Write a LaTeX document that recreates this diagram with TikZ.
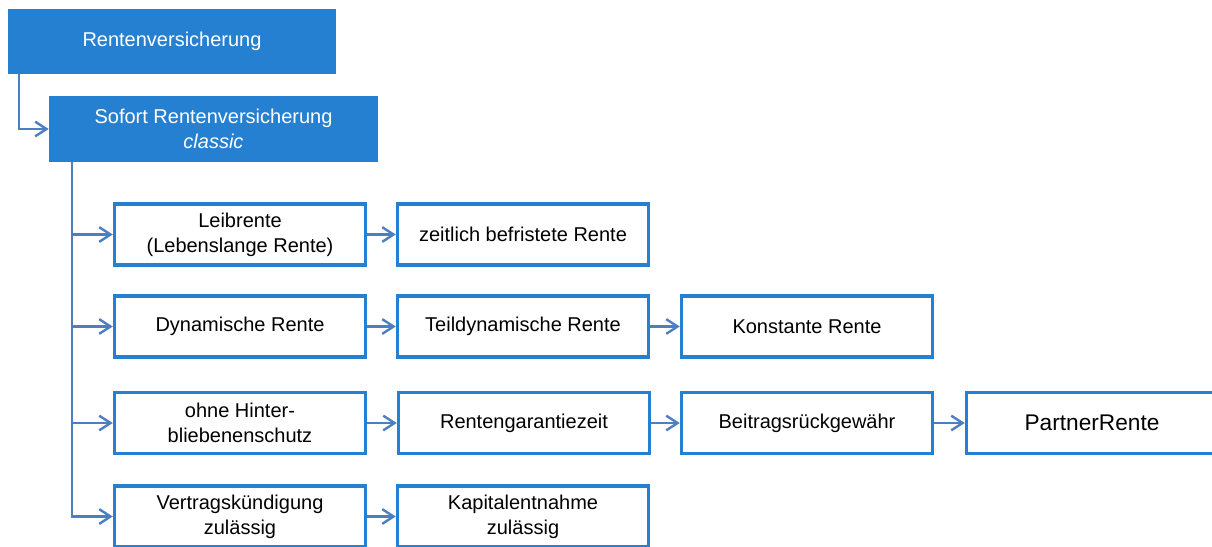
\documentclass[tikz,border=0pt]{standalone}
\usepackage{fontspec}
\setmainfont{Liberation Sans}
\usetikzlibrary{arrows.meta}
\usetikzlibrary{positioning}
\definecolor{boxblue}{RGB}{38,128,210}
\definecolor{linkblue}{RGB}{76,127,193}
\tikzset{>={Straight Barb[length=8.5pt,width=11pt]}}
\tikzset{
    headbox/.style={fill=boxblue, draw=none, text=white, align=center,
        font=\fontsize{15}{19}\selectfont, inner sep=0pt},
    optbox/.style={draw=boxblue, line width=2.6pt, fill=white, align=center,
        minimum width=188.25pt, minimum height=45.75pt, inner sep=0pt,
        font=\fontsize{15}{19}\selectfont},
    link/.style={draw=linkblue, line width=1.8pt, ->},
}
\begin{document}
\begin{tikzpicture}[x=0.75pt, y=-0.75pt]
				\clip (0,0) rectangle (1212,546); % page frame
				% heads
				\node[headbox, minimum width=246pt, minimum height=48.75pt] (rv) at (172,41.5) {Rentenversicherung};
				\node[headbox, minimum width=246.75pt, minimum height=49.5pt] (sofort) at (213.5,129) {Sofort Rentenversicherung\\\textit{classic}};
				\coordinate (rvtrunk) at ([xshift=8.25pt]rv.south west);
				\coordinate (trunk) at ([xshift=17.25pt]sofort.south west);
				
				% row 1
				\node[optbox] (leib) at (240,234.5) {Leibrente\\(Lebenslange Rente)};
				\node[optbox] (zeit) at (523,234.5) {zeitlich befristete Rente};
				% row 2
				\node[optbox] (dyn) at (240,326.5) {Dynamische Rente};
				\node[optbox] (teil) at (523,326.5) {Teildynamische Rente};
				\node[optbox] (konst) at (807,326.5) {Konstante Rente};
				% row 3
				\node[optbox] (ohne) at (240,423) {ohne Hinter-\\bliebenenschutz};
				\node[optbox] (garant) at (524,423) {Rentengarantiezeit};
				\node[optbox] (beitrag) at (807,423) {Beitragsrückgewähr};
				\node[optbox, font=\fontsize{17}{20}\selectfont] (partner) at (1092,423) {PartnerRente};
				% row 4
				\node[optbox] (kuend) at (240,516.5) {Vertragskündigung\\zulässig};
				\node[optbox] (kapital) at (523,516.5) {Kapitalentnahme\\zulässig};
				
				% connectors
				\draw[link] (rvtrunk) |- (sofort.west);
				\foreach \b in {leib, dyn, ohne, kuend}
					\draw[link] (trunk) |- (\b.west);
				\draw[link] (leib) -- (zeit);
				\draw[link] (dyn) -- (teil);
				\draw[link] (teil) -- (konst);
				\draw[link] (ohne) -- (garant);
				\draw[link] (garant) -- (beitrag);
				\draw[link] (beitrag) -- (partner);
				\draw[link] (kuend) -- (kapital);
			
			\end{tikzpicture}
\end{document}
